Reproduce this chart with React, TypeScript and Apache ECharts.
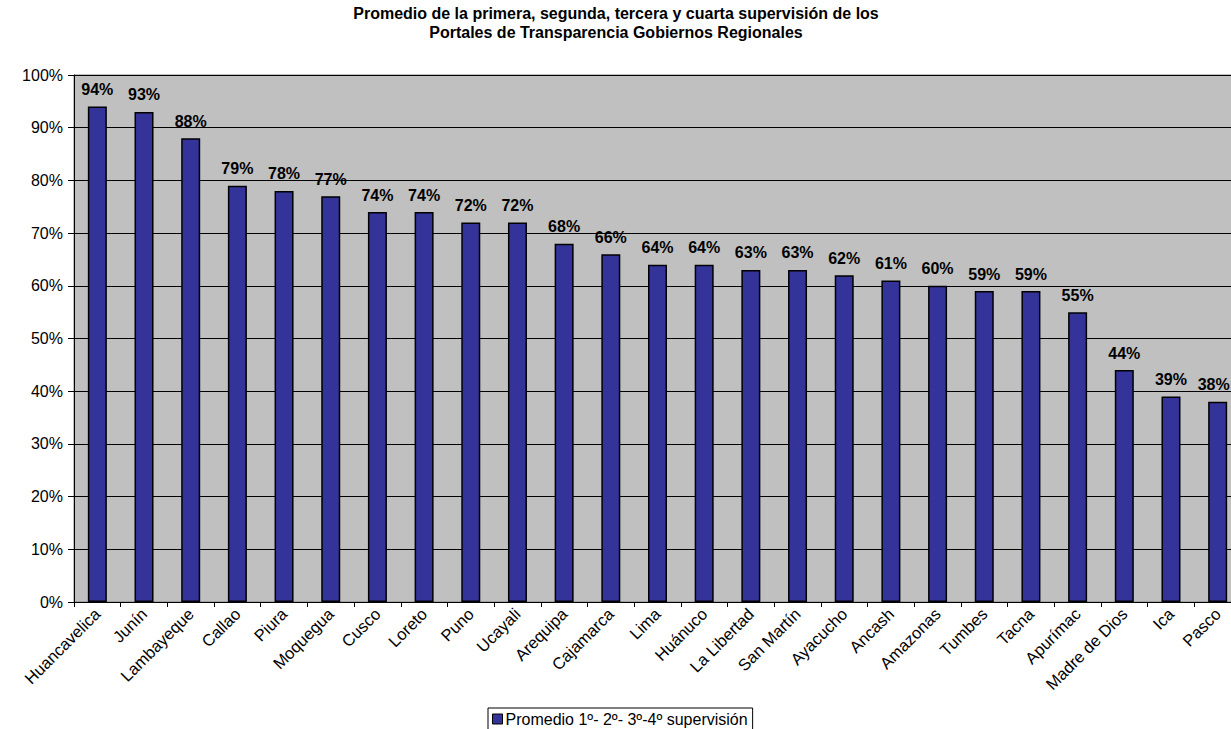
import React, { useEffect, useRef } from "react";
import * as echarts from "echarts";

const categories = ["Huancavelica","Junín","Lambayeque","Callao","Piura","Moquegua","Cusco","Loreto","Puno","Ucayali","Arequipa","Cajamarca","Lima","Huánuco","La Libertad","San Martín","Ayacucho","Ancash","Amazonas","Tumbes","Tacna","Apurímac","Madre de Dios","Ica","Pasco"];
const values = [94,93,88,79,78,77,74,74,72,72,68,66,64,64,63,63,62,61,60,59,59,55,44,39,38];
const seriesName = "Promedio 1º- 2º- 3º-4º supervisión";
const titleText = "Promedio de la primera, segunda, tercera y cuarta supervisión de los\nPortales de Transparencia Gobiernos Regionales";

const FONT = "Liberation Sans, Arial, sans-serif";

export default function App() {
  const ref = useRef<HTMLDivElement>(null);
  useEffect(() => {
    if (!ref.current) return;
    const chart = echarts.init(ref.current, null, { renderer: "svg" });
    const barData = values.map((v, i) =>
      i === values.length - 1 ? { value: v, label: { offset: [-4, 0] } } : v
    );
    chart.setOption({
      animation: false,
      backgroundColor: "#fff",
      textStyle: { fontFamily: FONT },
      title: {
        text: titleText,
        left: 616,
        textAlign: "center",
        top: 4,
        padding: 0,
        textStyle: { fontSize: 16, fontWeight: "bold", color: "#000", lineHeight: 19, fontFamily: FONT },
      },
      grid: {
        left: 74, right: 4, top: 75, bottom: 127,
        show: true, backgroundColor: "#C0C0C0", borderColor: "#808080", borderWidth: 1,
      },
      legend: {
        data: [seriesName],
        left: 488,
        top: 708,
        icon: "rect",
        itemWidth: 10,
        itemHeight: 10,
        itemGap: 4,
        padding: [3, 5, 3, 4],
        borderColor: "#000",
        borderWidth: 1,
        itemStyle: { borderColor: "#000", borderWidth: 1 },
        textStyle: { fontSize: 16, color: "#000", fontFamily: FONT, padding: [0, 0, 0, -2] },
      },
      xAxis: {
        type: "category",
        data: categories,
        boundaryGap: true,
        axisLine: { lineStyle: { color: "#000", width: 1 } },
        axisTick: { show: true, alignWithLabel: false, length: 5, lineStyle: { color: "#000" } },
        axisLabel: { rotate: 45, fontSize: 16.5, color: "#000", interval: 0, margin: 9, fontFamily: FONT },
      },
      yAxis: {
        type: "value",
        min: 0, max: 100, interval: 10,
        axisLine: { show: true, lineStyle: { color: "#000" } },
        axisTick: { show: true, length: 6, lineStyle: { color: "#000" } },
        axisLabel: { formatter: "{value}%", fontSize: 16, color: "#000", margin: 11, fontFamily: FONT },
        splitLine: { show: true, lineStyle: { color: "#000", width: 1 } },
      },
      series: [{
        name: seriesName,
        type: "bar",
        data: barData,
        barWidth: 19,
        itemStyle: { color: "#333399", borderColor: "#000", borderWidth: 1.5 },
        label: {
          show: true, position: "top", distance: 9,
          formatter: "{c}%",
          fontSize: 16, fontWeight: "bold", color: "#000",
          fontFamily: FONT,
        },
      }],
    });
    return () => chart.dispose();
  }, []);
  return (
    <div style={{ position: "fixed", left: 0, top: 0, width: 1231, height: 729, overflow: "hidden", background: "#fff" }}>
      <div ref={ref} style={{ width: 1245, height: 729 }} />
    </div>
  );
}
